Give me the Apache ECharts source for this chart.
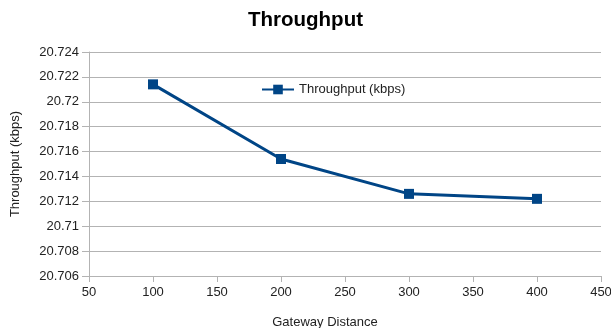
<!DOCTYPE html>
<html><head><meta charset="utf-8">
<script src="https://cdn.jsdelivr.net/npm/echarts@6/dist/echarts.min.js"></script>
<style>html,body{margin:0;padding:0;background:#fff}#c{width:611px;height:328px}</style>
</head><body><div id="c"></div>
<script>
const distances = [100, 200, 300, 400];
const throughput = [20.7214, 20.7154, 20.7126, 20.7122];
const seriesName = 'Throughput (kbps)';
const chart = echarts.init(document.getElementById('c'));
const font = 'Liberation Sans, Arial, sans-serif';
chart.setOption({
  animation: false,
  textStyle: {fontFamily: font},
  title: {text: 'Throughput', left: 'center', top: 5,
    textStyle: {fontFamily: font, fontSize: 20.5, fontWeight: 'bold', color: '#000'}},
  legend: {left: 256, top: 78, itemWidth: 32, itemHeight: 12, itemGap: 4,
    textStyle: {fontFamily: font, fontSize: 13, color: '#222'}},
  grid: {left: 89, right: 10, top: 52, bottom: 52, outerBoundsMode: 'none', containLabel: false},
  xAxis: {type: 'value', min: 50, max: 450, interval: 50,
    name: 'Gateway Distance', nameLocation: 'middle', nameGap: 40,
    nameTextStyle: {fontFamily: font, fontSize: 13, color: '#222', padding: [0, 40, 0, 0]},
    axisLine: {show: true, lineStyle: {color: '#b3b3b3'}},
    axisTick: {show: true, length: 6, lineStyle: {color: '#b3b3b3'}},
    axisLabel: {fontFamily: font, fontSize: 13, color: '#222', margin: 10},
    splitLine: {show: false}},
  yAxis: {type: 'value', min: 20.706, max: 20.724, interval: 0.002,
    name: 'Throughput (kbps)', nameLocation: 'middle', nameGap: 67,
    nameTextStyle: {fontFamily: font, fontSize: 13, color: '#222'},
    axisLine: {show: true, lineStyle: {color: '#b3b3b3'}},
    axisTick: {show: true, length: 7, lineStyle: {color: '#b3b3b3'}},
    axisLabel: {fontFamily: font, fontSize: 13, color: '#222', margin: 10,
      formatter: v => String(parseFloat(v.toFixed(3)))},
    splitLine: {show: true, lineStyle: {color: '#b3b3b3'}}},
  series: [{
    name: seriesName, type: 'line',
    data: distances.map((d, i) => [d, throughput[i]]),
    symbol: 'rect', symbolSize: 10,
    lineStyle: {color: '#004586', width: 3},
    itemStyle: {color: '#004586'}
  }]
});
</script></body></html>
